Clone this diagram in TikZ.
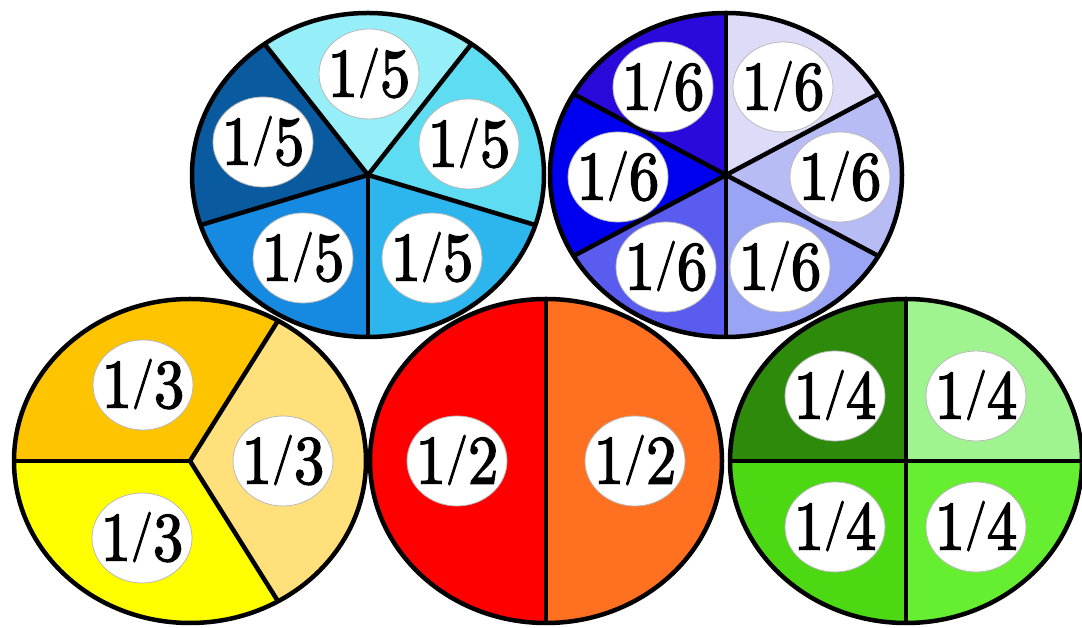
\documentclass[tikz,border=0pt]{standalone}
\usepackage{fontspec}
\usepackage{graphicx}
\usetikzlibrary{shapes.geometric,calc}
\newfontfamily\labfont{lmroman10-regular.otf}[FakeBold=2.2]
\definecolor{fiveA}{HTML}{96EEF8}
\definecolor{fiveB}{HTML}{5EDCF2}
\definecolor{fiveC}{HTML}{2DB6EE}
\definecolor{fiveD}{HTML}{168AE0}
\definecolor{fiveE}{HTML}{0A5AA0}
\definecolor{sixA}{HTML}{DCDCF8}
\definecolor{sixB}{HTML}{B8BCF5}
\definecolor{sixC}{HTML}{9AA4F5}
\definecolor{sixD}{HTML}{5A5CF0}
\definecolor{sixE}{HTML}{0000F0}
\definecolor{sixF}{HTML}{2A0ADA}
\definecolor{threeA}{HTML}{FFC400}
\definecolor{threeB}{HTML}{FFE07A}
\definecolor{threeC}{HTML}{FFFF00}
\definecolor{twoA}{HTML}{FF0000}
\definecolor{twoB}{HTML}{FF7020}
\definecolor{fourA}{HTML}{2E8A0A}
\definecolor{fourB}{HTML}{A0F490}
\definecolor{fourC}{HTML}{4CD812}
\definecolor{fourD}{HTML}{66EE30}
\newcommand\pieslice[4]{%
  \fill[#4] (#1) -- ++(#2:176 and 162) arc[start angle=#2, end angle=#3, x radius=176, y radius=162] -- cycle;}
\newcommand\pieline[2]{\draw[divline] (#1) -- ++(#2:176 and 162);}
\newcommand\pierim[1]{\draw[divline] (#1) ellipse[x radius=176, y radius=162];}
\tikzset{
  divline/.style={line width=4.5pt, black},
  fraclabel/.style={ellipse, fill=white, draw=gray!55, line width=0.8pt,
    minimum width=100pt, minimum height=90pt, inner sep=0pt,
    text height=45pt, text depth=0pt,
    font=\labfont\bfseries\fontsize{69}{69}\selectfont},
}
\newcommand\fr[1]{\makebox[20pt]{\scalebox{0.88}[1]{1\raisebox{11pt}{\scalebox{0.72}{/}}#1}}}
\begin{document}
\begin{tikzpicture}[x=1pt,y=1pt]
\useasboundingbox (0,0) rectangle (1082,628);
\fill[white] (0,0) rectangle (1082,628);
% centres
\coordinate (c3) at (190,167);
\coordinate (c2) at (546,167);
\coordinate (c4) at (906,167);
\coordinate (c5) at (368,453);
\coordinate (c6) at (726,453);
% ---- thirds
\pieslice{c3}{60}{180}{threeA}
\pieslice{c3}{-60}{60}{threeB}
\pieslice{c3}{180}{300}{threeC}
\pieline{c3}{180}\pieline{c3}{60}\pieline{c3}{-60}
\pierim{c3}
\node[fraclabel] (t1) at ($(c3)+(-47,76)$) {\fr{3}};
\node[fraclabel] (t2) at ($(c3)+(93,0)$) {\fr{3}};
\node[fraclabel] (t3) at ($(c3)+(-48,-77)$) {\fr{3}};
% ---- halves
\pieslice{c2}{90}{270}{twoA}
\pieslice{c2}{-90}{90}{twoB}
\pieline{c2}{90}\pieline{c2}{-90}
\pierim{c2}
\node[fraclabel] (h1) at ($(c2)+(-89,0)$) {\fr{2}};
\node[fraclabel] (h2) at ($(c2)+(89,0)$) {\fr{2}};
% ---- quarters
\pieslice{c4}{90}{180}{fourA}
\pieslice{c4}{0}{90}{fourB}
\pieslice{c4}{180}{270}{fourC}
\pieslice{c4}{270}{360}{fourD}
\pieline{c4}{0}\pieline{c4}{90}\pieline{c4}{180}\pieline{c4}{270}
\pierim{c4}
\node[fraclabel] (q1) at ($(c4)+(-71,65)$) {\fr{4}};
\node[fraclabel] (q2) at ($(c4)+(70,65)$) {\fr{4}};
\node[fraclabel] (q3) at ($(c4)+(-71,-66)$) {\fr{4}};
\node[fraclabel] (q4) at ($(c4)+(70,-66)$) {\fr{4}};
% ---- fifths
\pieslice{c5}{54}{126}{fiveA}
\pieslice{c5}{-18}{54}{fiveB}
\pieslice{c5}{-90}{-18}{fiveC}
\pieslice{c5}{198}{270}{fiveD}
\pieslice{c5}{126}{198}{fiveE}
\pieline{c5}{54}\pieline{c5}{126}\pieline{c5}{198}\pieline{c5}{270}\pieline{c5}{-18}
\pierim{c5}
\node[fraclabel] (f1) at ($(c5)+(1,101)$) {\fr{5}};
\node[fraclabel] (f2) at ($(c5)+(-105,33)$) {\fr{5}};
\node[fraclabel] (f3) at ($(c5)+(101,31)$) {\fr{5}};
\node[fraclabel] (f4) at ($(c5)+(-65,-83)$) {\fr{5}};
\node[fraclabel] (f5) at ($(c5)+(64,-83)$) {\fr{5}};
% ---- sixths
\pieslice{c6}{30}{90}{sixA}
\pieslice{c6}{-30}{30}{sixB}
\pieslice{c6}{-90}{-30}{sixC}
\pieslice{c6}{210}{270}{sixD}
\pieslice{c6}{150}{210}{sixE}
\pieslice{c6}{90}{150}{sixF}
\pieline{c6}{30}\pieline{c6}{90}\pieline{c6}{150}\pieline{c6}{210}\pieline{c6}{270}\pieline{c6}{-30}
\pierim{c6}
\node[fraclabel] (s1) at ($(c6)+(-63,88)$) {\fr{6}};
\node[fraclabel] (s2) at ($(c6)+(57,88)$) {\fr{6}};
\node[fraclabel] (s3) at ($(c6)+(-108,-2)$) {\fr{6}};
\node[fraclabel] (s4) at ($(c6)+(114,-2)$) {\fr{6}};
\node[fraclabel] (s5) at ($(c6)+(-60,-92)$) {\fr{6}};
\node[fraclabel] (s6) at ($(c6)+(54,-92)$) {\fr{6}};
\end{tikzpicture}
\end{document}
